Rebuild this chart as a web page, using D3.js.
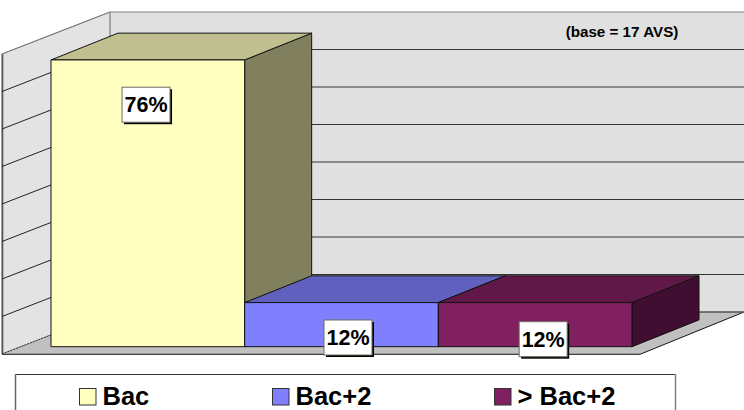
<!DOCTYPE html>
<html>
<head>
<meta charset="utf-8">
<script src="https://cdn.jsdelivr.net/npm/d3@7"></script>
<style>
html,body{margin:0;padding:0;background:#fff;overflow:hidden}
svg{display:block}
text{font-family:"Liberation Sans",Arial,sans-serif;font-weight:bold;fill:#000}
</style>
</head>
<body>
<svg id="c" width="744" height="410"></svg>
<script>
const categories = ["Bac", "Bac+2", "> Bac+2"];
const values = [76.47, 11.76, 11.76];
const valueLabels = ["76%", "12%", "12%"];
const gridTicks = [0, 10, 20, 30, 40, 50, 60, 70, 80];
const frontColors = ["#FFFFC0", "#8080FF", "#802060"];
const topColors = ["#BFBF90", "#6060BF", "#601848"];
const sideColors = ["#80805F", "#404080", "#400E30"];
const note = "(base = 17 AVS)";

const svg = d3.select("#c");
const wallX0 = 110, wallX1 = 744, wallDX = 108, wallDY = 42;
const y = d3.scaleLinear().domain([0, 80]).range([312, 12]);
const x = d3.scaleBand().domain(categories).range([51, 632]).padding(0);
const barBaseY = 346.7, barDX = 67, barDY = 26.8;
const h = v => y(0) - y(v);
const poly = (pts, fill, stroke, sw) => svg.append("polygon")
  .attr("points", pts.map(p => p.join(",")).join(" "))
  .attr("fill", fill).attr("stroke", stroke || "none").attr("stroke-width", sw || 0)
  .attr("stroke-linejoin", "miter");

// back wall, side wall, floor
poly([[wallX0, y(80)], [wallX1 + 2, y(80)], [wallX1 + 2, y(0)], [wallX0, y(0)]], "#E0E0E0");
poly([[wallX0 - wallDX, y(80) + wallDY], [wallX0, y(80)], [wallX0, y(0)], [wallX0 - wallDX, y(0) + wallDY]], "#E3E3E3", "#808080", 1);
poly([[wallX0 - wallDX, y(0) + wallDY], [wallX0, y(0)], [wallX1, y(0)], [wallX1 - wallDX + 4, y(0) + wallDY]], "#C0C0C0");

// floor edges
svg.append("path").attr("fill", "none").attr("stroke", "#111").attr("stroke-width", 1)
  .attr("d", d3.line()([[wallX0 - wallDX, y(0) + wallDY + 0.3], [wallX1 - wallDX + 4, y(0) + wallDY + 0.3], [wallX1, y(0)]]));
svg.append("line").attr("x1", wallX0 - wallDX).attr("y1", y(0) + wallDY)
  .attr("x2", wallX0).attr("y2", y(0)).attr("stroke", "#333").attr("stroke-width", 1)
  .attr("stroke-dasharray", "2 1");
svg.append("line").attr("x1", wallX0 - wallDX + 0.5).attr("y1", y(80) + wallDY)
  .attr("x2", wallX0 - wallDX + 0.5).attr("y2", y(0) + wallDY)
  .attr("stroke", "#555").attr("stroke-width", 1.6);

// gridlines
const grid = svg.append("g").attr("fill", "none");
gridTicks.forEach(t => {
  const c = (t === 80) ? "#808080" : (t === 0 ? "#555" : "#333");
  grid.append("line").attr("x1", wallX0).attr("x2", wallX1).attr("y1", y(t)).attr("y2", y(t))
    .attr("stroke", c).attr("stroke-width", t === 0 ? 1.5 : 1.2);
  if (t !== 0) grid.append("line").attr("x1", wallX0 - wallDX).attr("y1", y(t) + wallDY)
    .attr("x2", wallX0).attr("y2", y(t)).attr("stroke", t === 80 ? "#808080" : "#222").attr("stroke-width", 1);
});
svg.append("line").attr("x1", wallX0).attr("x2", wallX0).attr("y1", y(80)).attr("y2", y(0))
  .attr("stroke", "#9a9a9a").attr("stroke-width", 1);

// bars, drawn from left to right
categories.forEach((c, i) => {
  const x0 = x(c), x1 = x0 + x.bandwidth(), top = barBaseY - h(values[i]);
  poly([[x1, top], [x1 + barDX, top - barDY], [x1 + barDX, barBaseY - barDY], [x1, barBaseY]], sideColors[i], "#111", 1);
  poly([[x0, top], [x0 + barDX, top - barDY], [x1 + barDX, top - barDY], [x1, top]], topColors[i], "#111", 1);
  poly([[x0, top], [x1, top], [x1, barBaseY], [x0, barBaseY]], frontColors[i], "#111", 1);
});

// value labels
const labelDX = [-1.8, 6.5, 8], labelY = [104.7, 337.5, 339.2];
categories.forEach((c, i) => {
  const cx = x(c) + x.bandwidth() / 2 + labelDX[i], cy = labelY[i];
  svg.append("rect").attr("x", cx - 22).attr("y", cy - 15.5).attr("width", 48).attr("height", 35).attr("fill", "#000");
  svg.append("rect").attr("x", cx - 24).attr("y", cy - 17.5).attr("width", 48).attr("height", 35)
    .attr("fill", "#fff").attr("stroke", "#6e6e5e").attr("stroke-width", 1);
  svg.append("text").attr("x", cx).attr("y", cy + 7.5).attr("text-anchor", "middle")
    .attr("font-size", 21.5).text(valueLabels[i]);
});

// note
svg.append("text").attr("x", 622).attr("y", 37).attr("text-anchor", "middle")
  .attr("font-size", 15.2).text(note);

// legend
svg.append("rect").attr("x", 15.5).attr("y", 374.5).attr("width", 660).attr("height", 50)
  .attr("fill", "#fff").attr("stroke", "#333").attr("stroke-width", 1);
svg.append("line").attr("x1", 675.5).attr("x2", 675.5).attr("y1", 374).attr("y2", 410)
  .attr("stroke", "#808080").attr("stroke-width", 1.5);
svg.append("line").attr("x1", 15.5).attr("x2", 15.5).attr("y1", 374).attr("y2", 410)
  .attr("stroke", "#666").attr("stroke-width", 1.5);
const legendStep = [0, 193, 415];
categories.forEach((c, i) => {
  const lx = 79.5 + legendStep[i];
  svg.append("rect").attr("x", lx).attr("y", 388.5).attr("width", 16.5).attr("height", 16.5)
    .attr("fill", frontColors[i]).attr("stroke", "#333").attr("stroke-width", 1);
  svg.append("text").attr("x", lx + 23).attr("y", 404.5).attr("font-size", 25.5).text(c);
});
</script>
</body>
</html>
